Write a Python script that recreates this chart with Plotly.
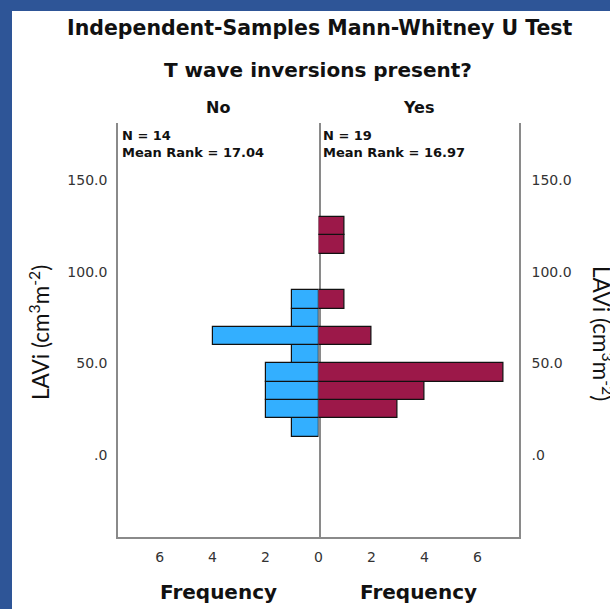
import plotly.graph_objects as go

# ---------------- data ----------------
bin_lower = [10, 20, 30, 40, 50, 60, 70, 80, 90, 100, 110, 120]
bin_width = 10
count_no = [1, 2, 2, 2, 1, 4, 1, 1, 0, 0, 0, 0]
count_yes = [0, 3, 4, 7, 0, 2, 0, 1, 0, 0, 1, 1]

group_labels = ["No", "Yes"]
group_stats = ["N = 14<br>Mean Rank = 17.04", "N = 19<br>Mean Rank = 16.97"]

y_tickvals = [0, 50, 100, 150]
y_ticktext = [".0", "50.0", "100.0", "150.0"]
x_tickvals_left = [2, 4, 6]
x_ticktext_left = ["2", "4", "6"]
x_tickvals_right = [0, 2, 4, 6]
x_ticktext_right = ["0", "2", "4", "6"]

title_main = "Independent-Samples Mann-Whitney U Test"
title_sub = "T wave inversions present?"
y_title = "LAVi (cm<sup>3</sup>m<sup>-2</sup>)"
x_title = "Frequency"

# ---------------- layout geometry ----------------
W, H = 610, 609
ML, MR, MT, MB = 118, 91, 123, 72
PW, PH = W - ML - MR, H - MT - MB


def px_x(x):
    return (x - ML) / PW


def px_y(y):
    return (H - MB - y) / PH


COL_NO = "#33AFFF"
COL_YES = "#9C1849"
FRAME = "#2E5597"
AXIS_COL = "#8a8a8a"
TICK_FONT = dict(family="DejaVu Sans", size=14, color="#333333")
BOLD = "DejaVu Sans"

centers = [b + bin_width / 2 for b in bin_lower]

fig = go.Figure()
fig.add_trace(go.Bar(
    x=[c for c in count_no if c > 0],
    y=[m for m, c in zip(centers, count_no) if c > 0],
    orientation="h", width=bin_width,
    marker=dict(color=COL_NO, line=dict(color="#111111", width=1.2)),
    xaxis="x", yaxis="y", showlegend=False, hoverinfo="skip",
))
fig.add_trace(go.Bar(
    x=[c for c in count_yes if c > 0],
    y=[m for m, c in zip(centers, count_yes) if c > 0],
    orientation="h", width=bin_width,
    marker=dict(color=COL_YES, line=dict(color="#111111", width=1.2)),
    xaxis="x2", yaxis="y2", showlegend=False, hoverinfo="skip",
))

yrange = [-44.8, 181.4]
xmax = 7.57

fig.update_layout(
    width=W, height=H,
    margin=dict(l=ML, r=MR, t=MT, b=MB, pad=0),
    paper_bgcolor="white",
    plot_bgcolor="rgba(0,0,0,0)",
    bargap=0,
    xaxis=dict(domain=[0, 0.5], range=[xmax, 0], tickvals=x_tickvals_left,
               ticktext=x_ticktext_left, showline=True, linecolor=AXIS_COL,
               linewidth=1.5, showgrid=False, zeroline=False, ticks="",
               tickfont=TICK_FONT, ticklabelstandoff=6, anchor="y"),
    xaxis2=dict(domain=[0.5, 1], range=[0, xmax], tickvals=x_tickvals_right,
                ticktext=x_ticktext_right, showline=True, linecolor=AXIS_COL,
                linewidth=1.5, showgrid=False, zeroline=False, ticks="",
                tickfont=TICK_FONT, ticklabelstandoff=6, anchor="y2"),
    yaxis=dict(range=yrange, tickvals=y_tickvals, ticktext=y_ticktext,
               showline=True, mirror=True, linecolor=AXIS_COL, linewidth=1.5,
               showgrid=False, zeroline=False, ticks="", tickfont=TICK_FONT,
               ticklabelstandoff=6, anchor="x"),
    yaxis2=dict(range=yrange, tickvals=y_tickvals, ticktext=y_ticktext,
                showline=True, linecolor=AXIS_COL, linewidth=1.5,
                showgrid=False, zeroline=False, ticks="", tickfont=TICK_FONT,
                side="right", ticklabelstandoff=8, anchor="x2"),
)

# blue slide frame on the left and top edges
fig.add_shape(type="rect", xref="paper", yref="paper", layer="below",
              x0=px_x(-5), x1=px_x(12), y0=px_y(H + 20), y1=px_y(-5),
              fillcolor=FRAME, line=dict(width=0))
fig.add_shape(type="rect", xref="paper", yref="paper", layer="below",
              x0=px_x(-5), x1=px_x(W + 20), y0=px_y(11), y1=px_y(-5),
              fillcolor=FRAME, line=dict(width=0))

ann = []
ann.append(dict(text=title_main, x=px_x(320), y=px_y(28), xref="paper", yref="paper",
                showarrow=False, xanchor="center", yanchor="middle",
                font=dict(family=BOLD, size=20.5, color="#111111", weight="bold")))
ann.append(dict(text=title_sub, x=px_x(318), y=px_y(70), xref="paper", yref="paper",
                showarrow=False, xanchor="center", yanchor="middle",
                font=dict(family=BOLD, size=20, color="#111111", weight="bold")))
for i, (lab, st) in enumerate(zip(group_labels, group_stats)):
    xd = "x domain" if i == 0 else "x2 domain"
    ann.append(dict(text=lab, x=0.5, y=px_y(107), xref=xd, yref="paper",
                    showarrow=False, xanchor="center", yanchor="middle",
                    font=dict(family=BOLD, size=16, color="#111111", weight="bold")))
    ann.append(dict(text=st, x=0.012, y=1.0, xref=xd, yref="paper", align="left",
                    showarrow=False, xanchor="left", yanchor="top", yshift=-3,
                    font=dict(family=BOLD, size=13, color="#111111", weight="bold")))
    ann.append(dict(text=x_title, x=0.5, y=px_y(592), xref=xd, yref="paper",
                    showarrow=False, xanchor="center", yanchor="middle",
                    font=dict(family=BOLD, size=20, color="#111111", weight="bold")))

ann.append(dict(text=y_title, x=px_x(39), y=px_y(333), xref="paper", yref="paper",
                showarrow=False, xanchor="center", yanchor="middle", textangle=-90,
                font=dict(family="Lato", size=22.5, color="#111111")))
ann.append(dict(text=y_title, x=px_x(603), y=px_y(333), xref="paper", yref="paper",
                showarrow=False, xanchor="center", yanchor="middle", textangle=90,
                font=dict(family="Lato", size=22.5, color="#111111")))
fig.update_layout(annotations=ann)

fig.write_html(
    "out.html",
    config={"displayModeBar": False},
    post_script="document.body.style.margin='0';document.body.style.overflow='hidden';",
)
